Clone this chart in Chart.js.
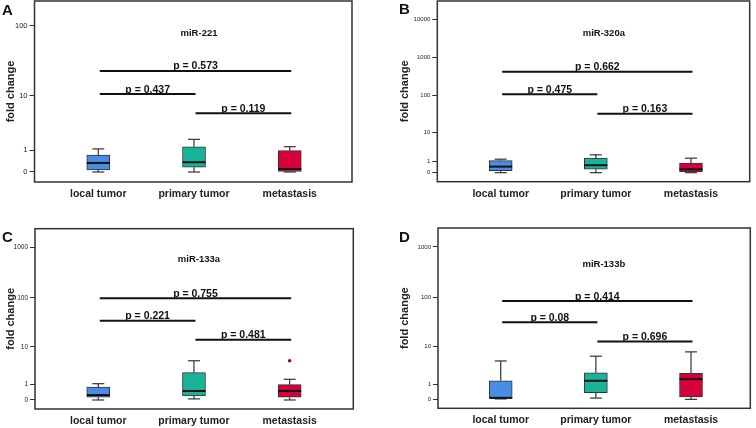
<!DOCTYPE html>
<html><head><meta charset="utf-8">
<script src="https://cdn.jsdelivr.net/npm/chart.js@4/dist/chart.umd.min.js"></script>
<style>
html,body{margin:0;padding:0;background:#fff;}
#wrap{position:relative;width:756px;height:428px;overflow:hidden;}
.panel{position:absolute;width:378px;height:214px;}
canvas{display:block;}
</style></head><body>
<div id="wrap">
<div class="panel" style="left:0;top:0"><canvas id="cA" width="378" height="214"></canvas></div>
<div class="panel" style="left:378px;top:0"><canvas id="cB" width="378" height="214"></canvas></div>
<div class="panel" style="left:0;top:214px"><canvas id="cC" width="378" height="214"></canvas></div>
<div class="panel" style="left:378px;top:214px"><canvas id="cD" width="378" height="214"></canvas></div>
</div>
<script>
// ---------- data ----------
const categories = ['local tumor', 'primary tumor', 'metastasis'];
const boxColors = ['#4a8de6', '#19b39a', '#d8003a'];
const pairs = [[0, 2], [0, 1], [1, 2]];

// miR-221 (A)
const mir221Low = [0, 0, 0];
const mir221Q1 = [0.065, 0.16, 0];
const mir221Median = [0.33, 0.36, 0.1];
const mir221Q3 = [0.71, 1.22, 0.96];
const mir221High = [1.07, 1.8, 1.22];
const mir221Outliers = [[], [], []];
const mir221P = ['p = 0.573', 'p = 0.437', 'p = 0.119'];
const mir221PLevel = [23.2, 10.7, 5.4];
const ticksA = [0, 1, 10, 100];

// miR-320a (B)
const mir320aLow = [0, 0, 0];
const mir320aQ1 = [0.13, 0.23, 0.06];
const mir320aMedian = [0.44, 0.57, 0.23];
const mir320aQ3 = [1.07, 1.39, 0.77];
const mir320aHigh = [1.25, 1.92, 1.39];
const mir320aOutliers = [[], [], []];
const mir320aP = ['p = 0.662', 'p = 0.475', 'p = 0.163'];
const mir320aPLevel = [426, 110, 33.4];
const ticksB = [0, 1, 10, 100, 1000, 10000];

// miR-133a (C)
const mir133aLow = [0, 0.05, 0];
const mir133aQ1 = [0.13, 0.2, 0.13];
const mir133aMedian = [0.25, 0.5, 0.5];
const mir133aQ3 = [0.8, 2.44, 1.0];
const mir133aHigh = [1.09, 4.9, 1.55];
const mir133aOutliers = [[], [], [4.9]];
const mir133aP = ['p = 0.755', 'p = 0.221', 'p = 0.481'];
const mir133aPLevel = [99, 35, 14.3];
const ticksC = [0, 1, 10, 100, 1000];

// miR-133b (D)
const mir133bLow = [0.02, 0.06, 0];
const mir133bQ1 = [0.05, 0.35, 0.12];
const mir133bMedian = [0.07, 1.32, 1.5];
const mir133bQ3 = [1.32, 2.33, 2.24];
const mir133bHigh = [4.7, 6.07, 7.6];
const mir133bOutliers = [[], [], []];
const mir133bP = ['p = 0.414', 'p = 0.08', 'p = 0.696'];
const mir133bPLevel = [84.8, 31.8, 12.7];
const ticksD = [0, 1, 10, 100, 1000];

// ---------- helpers ----------
const FONT = "'Liberation Sans', Arial, Helvetica, sans-serif";
const tf = v => Math.log10(1 + v);

const boxExtras = {
  id: 'boxExtras',
  afterDatasetsDraw(chart, args, o) {
    const {ctx, chartArea: a, scales: {x, y}} = chart;
    const line = (x1, y1, x2, y2) => { ctx.beginPath(); ctx.moveTo(x1, y1); ctx.lineTo(x2, y2); ctx.stroke(); };
    ctx.save();
    o.low.forEach((lo, i) => {
      const cx = x.getPixelForValue(i);
      const yl = y.getPixelForValue(tf(lo));
      const yh = y.getPixelForValue(tf(o.high[i]));
      const y1 = y.getPixelForValue(tf(o.q1[i]));
      const y3 = y.getPixelForValue(tf(o.q3[i]));
      const ym = y.getPixelForValue(tf(o.med[i]));
      ctx.strokeStyle = '#333'; ctx.lineWidth = 1.2;
      line(cx, y3, cx, yh); line(cx - 6, yh, cx + 6, yh);
      line(cx, y1, cx, yl); line(cx - 6, yl, cx + 6, yl);
      ctx.strokeStyle = '#111'; ctx.lineWidth = 2;
      line(cx - 11.5, ym, cx + 11.5, ym);
      ctx.fillStyle = '#8a1020';
      o.outliers[i].forEach(v => {
        ctx.beginPath(); ctx.arc(cx, y.getPixelForValue(tf(v)), 1.8, 0, Math.PI * 2); ctx.fill();
      });
    });
    // significance bars
    ctx.strokeStyle = '#111'; ctx.lineWidth = 2;
    ctx.fillStyle = '#111';
    ctx.font = 'bold 10.5px ' + FONT;
    ctx.textAlign = 'center'; ctx.textBaseline = 'alphabetic';
    pairs.forEach((p, k) => {
      const xa = x.getPixelForValue(p[0]) + 1.5, xb = x.getPixelForValue(p[1]) + 1.5;
      const yy = y.getPixelForValue(tf(o.pLevel[k]));
      line(xa, yy, xb, yy);
      ctx.fillText(o.pText[k], (xa + xb) / 2, yy - 1.5);
    });
    // frame
    ctx.strokeStyle = '#333'; ctx.lineWidth = 1.5;
    ctx.strokeRect(a.left, a.top, a.width, a.height);
    // title
    ctx.font = 'bold 9.5px ' + FONT;
    ctx.textBaseline = 'middle';
    ctx.fillText(o.title, (x.getPixelForValue(0) + x.getPixelForValue(2)) / 2 + o.titleDx, a.top + o.titleDy);
    // panel letter
    ctx.font = 'bold 15px ' + FONT;
    ctx.textAlign = 'left'; ctx.textBaseline = 'alphabetic';
    ctx.fillText(o.letter, o.letterX, o.letterY);
    ctx.restore();
  }
};

function makeChart(id, cfg) {
  const data = categories.map((c, i) => ({x: i, y: [tf(cfg.q1[i]), tf(cfg.q3[i])]}));
  return new Chart(document.getElementById(id), {
    type: 'bar',
    data: {
      datasets: [{
        data,
        backgroundColor: boxColors,
        borderColor: '#333',
        borderWidth: 1,
        borderSkipped: false,
        barThickness: 23
      }]
    },
    options: {
      responsive: false,
      animation: false,
      layout: {padding: cfg.pad},
      plugins: {
        legend: {display: false},
        tooltip: {enabled: false},
        boxExtras: cfg
      },
      scales: {
        x: {
          type: 'linear', min: cfg.xMin, max: cfg.xMax, offset: false,
          afterBuildTicks: s => { s.ticks = categories.map((c, i) => ({value: i})); },
          ticks: {callback: (v, i) => categories[i], font: {size: 10.5, weight: 'bold', family: FONT}, color: '#222', padding: 6, maxRotation: 0, autoSkip: false},
          grid: {display: false, drawTicks: false},
          border: {display: false},
          afterFit: s => { s.height = cfg.xH; s.paddingLeft = 0; s.paddingRight = 0; }
        },
        y: {
          type: 'linear', min: cfg.yMin, max: cfg.yMax,
          afterBuildTicks: s => { s.ticks = cfg.ticks.map(v => ({value: tf(v)})); },
          ticks: {callback: (v, i) => String(cfg.ticks[i]), font: {size: cfg.tickSize, family: FONT}, color: '#222', padding: 2, autoSkip: false},
          grid: {drawOnChartArea: false, drawTicks: true, tickLength: 5, color: '#333', lineWidth: 1},
          border: {display: false},
          title: {display: true, text: 'fold change', font: {size: 11, weight: 'bold', family: FONT}, color: '#222', padding: {top: 4, bottom: 4}},
          afterFit: s => { s.width = cfg.yW; s.paddingTop = 0; s.paddingBottom = 0; }
        }
      }
    },
    plugins: [boxExtras]
  });
}

makeChart('cA', {
  low: mir221Low, q1: mir221Q1, med: mir221Median, q3: mir221Q3, high: mir221High, outliers: mir221Outliers,
  pText: mir221P, pLevel: mir221PLevel, ticks: ticksA, title: 'miR-221', letter: 'A',
  pad: {left: 0, top: 1, right: 26, bottom: 0}, yW: 34.5, xH: 32, tickSize: 7.5,
  xMin: -0.666, xMax: 2.65, yMin: -0.137, yMax: 2.342,
  titleDx: 5, titleDy: 32, letterX: 2, letterY: 15
});
makeChart('cB', {
  low: mir320aLow, q1: mir320aQ1, med: mir320aMedian, q3: mir320aQ3, high: mir320aHigh, outliers: mir320aOutliers,
  pText: mir320aP, pLevel: mir320aPLevel, ticks: ticksB, title: 'miR-320a', letter: 'B',
  pad: {left: 16.4, top: 1, right: 6.3, bottom: 0}, yW: 42.9, xH: 32.3, tickSize: 6,
  xMin: -0.666, xMax: 2.617, yMin: -0.235, yMax: 4.477,
  titleDx: 8, titleDy: 32, letterX: 21, letterY: 13.5
});
makeChart('cC', {
  low: mir133aLow, q1: mir133aQ1, med: mir133aMedian, q3: mir133aQ3, high: mir133aHigh, outliers: mir133aOutliers,
  pText: mir133aP, pLevel: mir133aPLevel, ticks: ticksC, title: 'miR-133a', letter: 'C',
  pad: {left: 0, top: 14.7, right: 24.7, bottom: 0}, yW: 35, xH: 19, tickSize: 6.5,
  xMin: -0.661, xMax: 2.665, yMin: -0.177, yMax: 3.365,
  titleDx: 5, titleDy: 31, letterX: 2, letterY: 27.5
});
makeChart('cD', {
  low: mir133bLow, q1: mir133bQ1, med: mir133bMedian, q3: mir133bQ3, high: mir133bHigh, outliers: mir133bOutliers,
  pText: mir133bP, pLevel: mir133bPLevel, ticks: ticksD, title: 'miR-133b', letter: 'D',
  pad: {left: 16, top: 14, right: 5.7, bottom: 0}, yW: 44, xH: 19.7, tickSize: 6,
  xMin: -0.659, xMax: 2.623, yMin: -0.176, yMax: 3.372,
  titleDx: 8, titleDy: 36, letterX: 21, letterY: 27.5
});
</script>
</body></html>
